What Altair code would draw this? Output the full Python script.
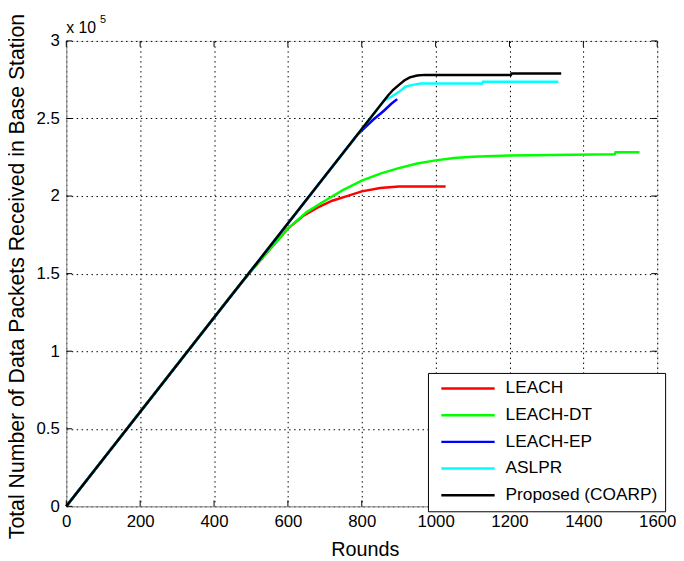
import altair as alt
import pandas as pd

series_names = ["LEACH", "LEACH-DT", "LEACH-EP", "ASLPR", "Proposed (COARP)"]
series_colors = ["#FF0000", "#00FF00", "#0000FF", "#00FFFF", "#000000"]

# values in units of 10^5 packets
leach_rounds = [0, 450, 500, 550, 600, 640, 680, 720, 760, 800, 850, 900, 1027]
leach_values = [0, 1.37, 1.515, 1.655, 1.79, 1.87, 1.925, 1.97, 2.0, 2.03, 2.052, 2.062, 2.062]

leachdt_rounds = [0, 450, 500, 550, 600, 650, 700, 750, 800, 850, 900, 950, 1000, 1050, 1100, 1200, 1485, 1487, 1552]
leachdt_values = [0, 1.37, 1.515, 1.655, 1.79, 1.895, 1.97, 2.04, 2.10, 2.145, 2.18, 2.21, 2.23, 2.245, 2.253, 2.262, 2.27, 2.282, 2.282]

leachep_rounds = [0, 790, 830, 860, 880, 896]
leachep_values = [0, 2.40, 2.49, 2.55, 2.595, 2.625]

aslpr_rounds = [0, 860, 880, 900, 918, 935, 960, 1126, 1128, 1332]
aslpr_values = [0, 2.615, 2.64, 2.67, 2.705, 2.715, 2.726, 2.726, 2.737, 2.737]

coarp_rounds = [0, 870, 885, 900, 915, 930, 950, 970, 1204, 1206, 1340]
coarp_values = [0, 2.645, 2.685, 2.715, 2.745, 2.765, 2.777, 2.781, 2.781, 2.79, 2.79]

x_ticks = [0, 200, 400, 600, 800, 1000, 1200, 1400, 1600]
y_ticks = [0, 0.5, 1, 1.5, 2, 2.5, 3]

all_rounds = [leach_rounds, leachdt_rounds, leachep_rounds, aslpr_rounds, coarp_rounds]
all_values = [leach_values, leachdt_values, leachep_values, aslpr_values, coarp_values]

rows = []
for name, rr, vv in zip(series_names, all_rounds, all_values):
    for i, (r, v) in enumerate(zip(rr, vv)):
        rows.append({"series": name, "round": r, "value": v, "idx": i})
df = pd.DataFrame(rows)

W, H = 598, 471
FONT = "Liberation Sans"
GRID = dict(grid=True, gridColor="#000000", gridOpacity=1, gridDash=[1.5, 3.5], gridWidth=1)

x_axis = alt.Axis(values=x_ticks, title="Rounds", ticks=False, format="d",
                  labelPadding=7, labelFlush=False, labelOverlap=False,
                  labelFontSize=17, titleFontSize=20, titleY=50, titleX=302,
                  titleBaseline="alphabetic", titleFontWeight="normal", **GRID)
y_axis = alt.Axis(values=y_ticks, title="Total Number of Data Packets Received in Base Station",
                  ticks=False, format="~g", labelPadding=7,
                  labelOverlap=False, labelFontSize=17, titleFontSize=21.5,
                  titleX=-43, titleY=238, titleBaseline="alphabetic",
                  titleFontWeight="normal", **GRID)

xs = alt.Scale(domain=[0, 1600], nice=False)
ys = alt.Scale(domain=[0, 3], nice=False)

lines = alt.Chart(df).mark_line(strokeWidth=2.5).encode(
    x=alt.X("round:Q", scale=xs, axis=x_axis),
    y=alt.Y("value:Q", scale=ys, axis=y_axis),
    color=alt.Color("series:N",
                    scale=alt.Scale(domain=series_names, range=series_colors),
                    legend=alt.Legend(title=None, orient="none", legendX=366, legendY=336,
                                      direction="vertical", fillColor="white",
                                      strokeColor="black", padding=7,
                                      symbolType="stroke", symbolSize=2916,
                                      symbolStrokeWidth=2.5, symbolOffset=5,
                                      labelFontSize=17.5, labelFont=FONT,
                                      labelOffset=9.5, rowPadding=8, clipHeight=17.5,
                                      labelLimit=300, cornerRadius=0)),
    order=alt.Order("idx:Q"),
)

xt = pd.DataFrame({"round": x_ticks})
yt = pd.DataFrame({"value": y_ticks})
TL = 6
tick_bottom = alt.Chart(xt).mark_rule(color="black", strokeWidth=1).encode(
    x=alt.X("round:Q", scale=xs), y=alt.value(H - TL), y2=alt.value(H))
tick_top = alt.Chart(xt).mark_rule(color="black", strokeWidth=1).encode(
    x=alt.X("round:Q", scale=xs), y=alt.value(0), y2=alt.value(TL))
tick_left = alt.Chart(yt).mark_rule(color="black", strokeWidth=1).encode(
    y=alt.Y("value:Q", scale=ys), x=alt.value(0), x2=alt.value(TL))
tick_right = alt.Chart(yt).mark_rule(color="black", strokeWidth=1).encode(
    y=alt.Y("value:Q", scale=ys), x=alt.value(W - TL), x2=alt.value(W))

mult_text = alt.Chart(pd.DataFrame({"t": ["x 10"]})).mark_text(
    align="left", baseline="alphabetic", fontSize=16, font=FONT, color="black"
).encode(text="t:N", x=alt.value(0), y=alt.value(-8))
exp_text = alt.Chart(pd.DataFrame({"t": ["5"]})).mark_text(
    align="left", baseline="alphabetic", fontSize=11, font=FONT, color="black"
).encode(text="t:N", x=alt.value(34), y=alt.value(-18))

chart = alt.layer(lines, tick_bottom, tick_top, tick_left, tick_right, mult_text, exp_text).properties(
    width=W, height=H,
    autosize=alt.AutoSizeParams(type="none"),
    padding={"left": 59, "top": 30, "right": 19, "bottom": 52},
).configure_view(
    stroke="black", strokeWidth=1
).configure_axis(
    labelFont=FONT, titleFont=FONT, labelColor="black", titleColor="black",
    domainColor="black", domainWidth=1
).configure(background="white")

chart.save("out.html", embed_options={"renderer": "svg", "actions": False})
